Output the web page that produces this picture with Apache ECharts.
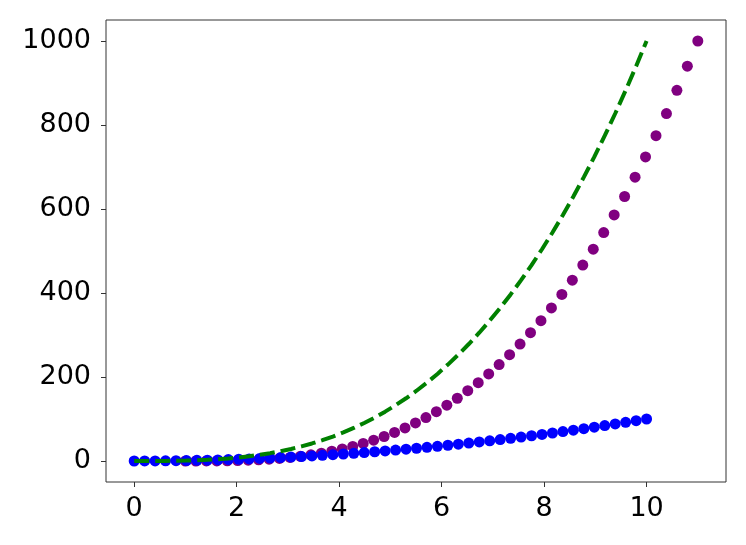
<!DOCTYPE html>
<html>
<head>
<meta charset="utf-8">
<script src="https://cdn.jsdelivr.net/npm/echarts@6/dist/echarts.min.js"></script>
<style>html,body{margin:0;padding:0;background:#fff}#c{width:746px;height:545px}</style>
</head>
<body>
<div id="c"></div>
<script>
// x values (50 evenly spaced samples from 0 to 10)
var xs = [0, 0.2041, 0.4082, 0.6122, 0.8163, 1.0204, 1.2245, 1.4286, 1.6327, 1.8367,
  2.0408, 2.2449, 2.4490, 2.6531, 2.8571, 3.0612, 3.2653, 3.4694, 3.6735, 3.8776,
  4.0816, 4.2857, 4.4898, 4.6939, 4.8980, 5.1020, 5.3061, 5.5102, 5.7143, 5.9184,
  6.1224, 6.3265, 6.5306, 6.7347, 6.9388, 7.1429, 7.3469, 7.5510, 7.7551, 7.9592,
  8.1633, 8.3673, 8.5714, 8.7755, 8.9796, 9.1837, 9.3878, 9.5918, 9.7959, 10];
// blue dots
var blueY = [0, 0.04, 0.17, 0.37, 0.67, 1.04, 1.50, 2.04, 2.67, 3.37,
  4.16, 5.04, 6.00, 7.04, 8.16, 9.37, 10.66, 12.04, 13.49, 15.04,
  16.66, 18.37, 20.16, 22.03, 23.99, 26.03, 28.16, 30.36, 32.65, 35.03,
  37.48, 40.03, 42.65, 45.36, 48.15, 51.02, 53.98, 57.02, 60.14, 63.35,
  66.64, 70.01, 73.47, 77.01, 80.63, 84.34, 88.13, 92.00, 95.96, 100];
// green dashed curve
var greenY = [0, 0.01, 0.07, 0.23, 0.54, 1.06, 1.84, 2.92, 4.35, 6.20,
  8.50, 11.31, 14.69, 18.67, 23.32, 28.69, 34.82, 41.76, 49.57, 58.30,
  68.00, 78.72, 90.51, 103.42, 117.50, 132.81, 149.39, 167.30, 186.59, 207.30,
  229.49, 253.22, 278.52, 305.46, 334.08, 364.43, 396.57, 430.55, 466.41, 504.21,
  544.00, 585.82, 629.74, 675.80, 724.05, 774.55, 827.34, 882.48, 940.01, 1000];
// purple dots (shifted right by 1)
var purpleX = [1, 1.2041, 1.4082, 1.6122, 1.8163, 2.0204, 2.2245, 2.4286, 2.6327, 2.8367,
  3.0408, 3.2449, 3.4490, 3.6531, 3.8571, 4.0612, 4.2653, 4.4694, 4.6735, 4.8776,
  5.0816, 5.2857, 5.4898, 5.6939, 5.8980, 6.1020, 6.3061, 6.5102, 6.7143, 6.9184,
  7.1224, 7.3265, 7.5306, 7.7347, 7.9388, 8.1429, 8.3469, 8.5510, 8.7551, 8.9592,
  9.1633, 9.3673, 9.5714, 9.7755, 9.9796, 10.1837, 10.3878, 10.5918, 10.7959, 11];
var purpleY = greenY.slice();
var xTicks = [0, 2, 4, 6, 8, 10];
var yTicks = [0, 200, 400, 600, 800, 1000];

function pairs(a, b) { return a.map(function (v, i) { return [v, b[i]]; }); }

var font = 'DejaVu Sans';
var chart = echarts.init(document.getElementById('c'), null, {renderer: 'canvas'});
chart.setOption({
  animation: false,
  backgroundColor: '#fff',
  grid: {left: 106, right: 20, top: 20, bottom: 63, show: true, borderColor: '#333', borderWidth: 1, backgroundColor: 'transparent'},
  xAxis: {
    type: 'value', min: -0.55, max: 11.55,
    axisLine: {show: false, onZero: false},
    splitLine: {show: false},
    axisTick: {show: true, inside: false, length: 5, lineStyle: {color: '#333'}, customValues: xTicks},
    axisLabel: {show: true, customValues: xTicks, fontFamily: font, fontSize: 27, color: '#000', margin: 13,
      formatter: function (v) { return String(v); }}
  },
  yAxis: {
    type: 'value', min: -50, max: 1050,
    axisLine: {show: false, onZero: false},
    splitLine: {show: false},
    axisTick: {show: true, inside: false, length: 5, lineStyle: {color: '#333'}, customValues: yTicks},
    axisLabel: {show: true, customValues: yTicks, fontFamily: font, fontSize: 27, color: '#000', margin: 15,
      formatter: function (v) { return String(v); }}
  },
  series: [
    {type: 'scatter', data: pairs(purpleX, purpleY), symbolSize: 11, itemStyle: {color: '#800080', opacity: 1}, z: 2},
    {type: 'scatter', data: pairs(xs, blueY), symbolSize: 11, itemStyle: {color: '#0000ff', opacity: 1}, z: 3},
    {type: 'line', data: pairs(xs, greenY), showSymbol: false, symbol: 'none', smooth: false,
     lineStyle: {color: '#008000', width: 4, type: [15, 6]}, z: 4}
  ]
});
</script>
</body>
</html>
